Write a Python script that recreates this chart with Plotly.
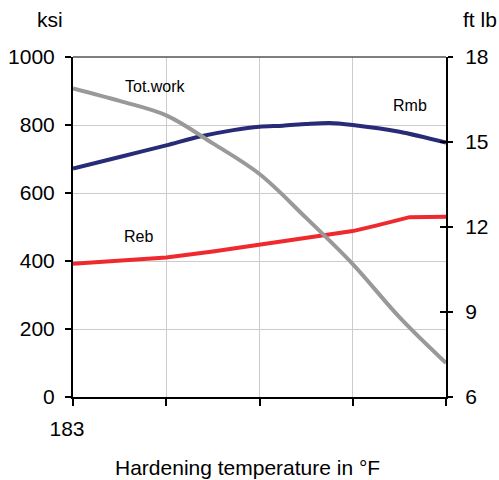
import plotly.graph_objects as go

# x positions in axis units (0..4); only the first tick is labelled
x_ticks = [0, 1, 2, 3, 4]
x_ticktext = ["183", "", "", "", ""]

# Rmb (ksi, left axis)
rmb_x = [0, 0.5, 1, 1.36, 1.72, 2, 2.25, 2.5, 2.75, 3, 3.5, 4]
rmb_y = [672, 706, 740, 766, 785, 795, 798, 803, 806, 800, 780, 748]

# Reb (ksi, left axis)
reb_x = [0, 0.5, 1, 1.5, 1.9, 2, 2.33, 3, 3.25, 3.61, 4]
reb_y = [392, 400, 410, 428, 444, 448, 462, 488, 504, 529, 530]

# Tot.work (ft lb, right axis)
tot_x = [0, 0.5, 1, 1.5, 2, 2.5, 3, 3.5, 4]
tot_y = [16.89, 16.45, 15.94, 14.95, 13.87, 12.32, 10.69, 8.82, 7.2]

left_ticks = [0, 200, 400, 600, 800, 1000]
right_ticks = [6, 9, 12, 15, 18]

FONT = "Liberation Sans, Arial, sans-serif"
NAVY = "#272B78"
RED = "#EE2A2E"
GRAY = "#999999"

fig = go.Figure()
fig.add_trace(go.Scatter(x=rmb_x, y=rmb_y, mode="lines", line=dict(color=NAVY, width=4, shape="spline", smoothing=0.8),
                         name="Rmb", yaxis="y"))
fig.add_trace(go.Scatter(x=reb_x, y=reb_y, mode="lines", line=dict(color=RED, width=4), name="Reb", yaxis="y"))
fig.add_trace(go.Scatter(x=tot_x, y=tot_y, mode="lines", line=dict(color=GRAY, width=4, shape="spline", smoothing=1.0),
                         name="Tot.work", yaxis="y2"))
# invisible trace to host the inside tick marks of the right axis
fig.add_trace(go.Scatter(x=[None], y=[None], yaxis="y3", showlegend=False, hoverinfo="skip"))

fig.update_layout(
    width=499, height=480,
    margin=dict(l=73, r=53, t=57, b=83, autoexpand=False),
    plot_bgcolor="white", paper_bgcolor="white",
    showlegend=False,
    font=dict(family=FONT, size=21, color="black"),
    xaxis=dict(range=[0, 4], tickvals=x_ticks, ticktext=x_ticktext, ticks="outside", ticklen=7,
               tickwidth=1.5, tickcolor="black", showline=True, linecolor="black", linewidth=2,
               showgrid=True, gridcolor="#CCCCCC", gridwidth=1, zeroline=False,
               ticklabelshift=-6, ticklabelstandoff=5, automargin=False),
    yaxis=dict(range=[0, 1000], tickvals=left_ticks, ticks="outside", ticklen=6, tickwidth=1.5,
               tickcolor="black", showline=True, linecolor="black", linewidth=2,
               showgrid=True, gridcolor="#CCCCCC", gridwidth=1, zeroline=False,
               ticklabelstandoff=6, automargin=False),
    yaxis2=dict(range=[6, 18], tickvals=right_ticks, overlaying="y", side="right", ticks="outside",
                ticklen=5, tickwidth=1.5, tickcolor="black", showline=True, linecolor="black",
                linewidth=2, showgrid=False, zeroline=False, ticklabelstandoff=8, automargin=False),
    yaxis3=dict(range=[6, 18], tickvals=right_ticks, overlaying="y", side="right", ticks="inside",
                ticklen=6, tickwidth=1.5, tickcolor="black", showticklabels=False, showline=False,
                showgrid=False, zeroline=False, automargin=False),
)

fig.add_shape(type="line", xref="paper", yref="paper", x0=0, x1=1, y0=1, y1=1,
              line=dict(color="#555555", width=1.5))

ann_font = dict(family=FONT, size=16, color="black")
fig.add_annotation(x=0.88, y=912, xref="x", yref="y", text="Tot.work", showarrow=False, font=ann_font,
                   xanchor="center", yanchor="middle")
fig.add_annotation(x=3.61, y=856, xref="x", yref="y", text="Rmb", showarrow=False, font=ann_font,
                   xanchor="center", yanchor="middle")
fig.add_annotation(x=0.70, y=471, xref="x", yref="y", text="Reb", showarrow=False, font=ann_font,
                   xanchor="center", yanchor="middle")

big = dict(family=FONT, size=21, color="black")
fig.add_annotation(x=-0.063, y=1.11, xref="paper", yref="paper", text="ksi", showarrow=False, font=big,
                   xanchor="center", yanchor="middle")
fig.add_annotation(x=1.091, y=1.11, xref="paper", yref="paper", text="ft lb", showarrow=False, font=big,
                   xanchor="center", yanchor="middle")
fig.add_annotation(x=0.4665, y=-0.207, xref="paper", yref="paper", text="Hardening temperature in °F",
                   showarrow=False, font=big, xanchor="center", yanchor="middle")

fig.write_html("out.html", config={"displayModeBar": False},
               post_script="document.body.style.margin='0';")
